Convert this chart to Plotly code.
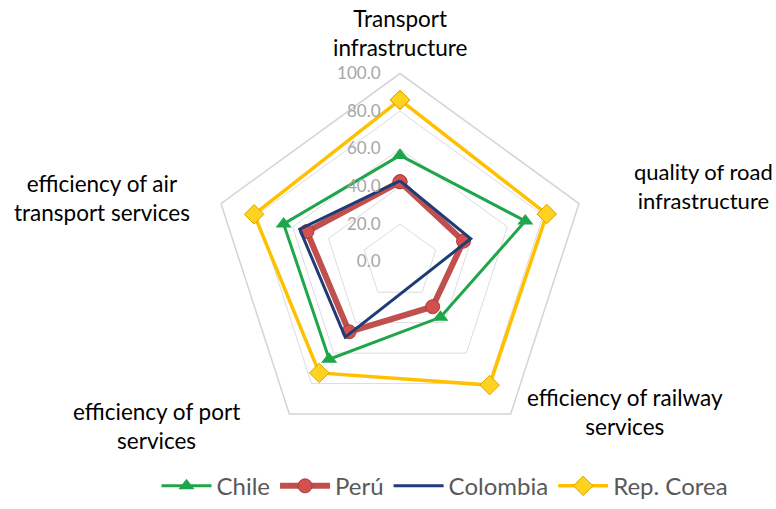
import plotly.graph_objects as go

categories = ["Transport infrastructure", "quality of road infrastructure",
              "efficiency of railway services", "efficiency of port services",
              "efficiency of air transport services"]
category_labels = ["Transport<br>infrastructure", "quality of road<br>infrastructure",
                   "efficiency of railway<br>services", "efficiency of port<br>services",
                   "efficiency of air<br>transport services"]

chile = [56.5, 70.0, 36.5, 64.0, 65.0]
peru = [42.5, 35.5, 29.5, 46.0, 52.0]
colombia = [43.0, 39.5, None, 49.5, 56.0]
corea = [86.0, 82.0, 81.0, 73.0, 81.5]

tick_vals = [0, 20, 40, 60, 80, 100]
tick_text = ["0.0", "20.0", "40.0", "60.0", "80.0", "100.0"]

FONT = "Lato"


def closed(v):
    return v + [v[0]]


theta = closed(categories)

fig = go.Figure()
fig.add_trace(go.Scatterpolar(
    r=closed(chile), theta=theta, name="Chile", mode="lines+markers",
    line=dict(color="#1fa64a", width=3),
    marker=dict(symbol="triangle-up", size=14, color="#1fa64a"),
))
fig.add_trace(go.Scatterpolar(
    r=closed(peru), theta=theta, name="Perú", mode="lines+markers",
    line=dict(color="#c0504d", width=6),
    marker=dict(symbol="circle", size=14, color="#d2514e",
                line=dict(color="#a83c39", width=1)),
))
fig.add_trace(go.Scatterpolar(
    r=closed(colombia), theta=theta, name="Colombia", mode="lines",
    connectgaps=True,
    line=dict(color="#1f3c78", width=3),
))
fig.add_trace(go.Scatterpolar(
    r=closed(corea), theta=theta, name="Rep. Corea", mode="lines+markers",
    line=dict(color="#ffc000", width=3.5),
    marker=dict(symbol="diamond", size=15, color="#ffd21f",
                line=dict(color="#d9a400", width=1)),
))

W, H = 776, 509
cx, cy, R = 400, 267, 192


def px(xv):
    return xv / W


def py(yv):
    return 1 - yv / H


fig.update_layout(
    width=W, height=H,
    margin=dict(l=0, r=0, t=0, b=0),
    paper_bgcolor="white",
    plot_bgcolor="white",
    font=dict(family=FONT),
    polar=dict(
        bgcolor="white",
        gridshape="linear",
        domain=dict(x=[(cx - R) / W, (cx + R) / W],
                    y=[(H - cy - R) / H, (H - cy + R) / H]),
        radialaxis=dict(
            range=[0, 100], tickvals=tick_vals, ticktext=tick_text,
            angle=90, side="counterclockwise", tickangle=90,
            showline=False, ticks="outside", ticklen=13,
            tickcolor="rgba(0,0,0,0)",
            gridcolor="#dcdcdc", gridwidth=1,
            tickfont=dict(family=FONT, size=17, color="#a6a6a6"),
        ),
        angularaxis=dict(
            direction="clockwise", rotation=90,
            showticklabels=False, ticks="", showgrid=False,
            linecolor="#d4d4d4", linewidth=1.5,
        ),
    ),
    legend=dict(
        orientation="h", x=px(445), xanchor="center", y=py(496), yanchor="middle",
        font=dict(family=FONT, size=24, color="#595959"),
        itemwidth=50, traceorder="normal",
    ),
    showlegend=True,
)

label_pos = [
    (px(400), py(34), 22.5),
    (px(703), py(190), 22),
    (px(625), py(420), 22.5),
    (px(156), py(435), 22.5),
    (px(102), py(202), 22.5),
]
for text, (x, y, size) in zip(category_labels, label_pos):
    fig.add_annotation(
        x=x, y=y, xref="paper", yref="paper", text=text, showarrow=False,
        xanchor="center", yanchor="middle", align="center",
        font=dict(family=FONT, size=size, color="#000000"),
    )

post = (
    "var gd=document.getElementById('{plot_id}');"
    "gd.style.position='fixed';gd.style.left='0px';gd.style.top='0px';"
    "document.body.style.margin='0px';"
    "document.documentElement.style.overflow='hidden';"
    "document.body.style.overflow='hidden';"
)

fig.write_html("out.html", config={"displayModeBar": False}, post_script=post)
